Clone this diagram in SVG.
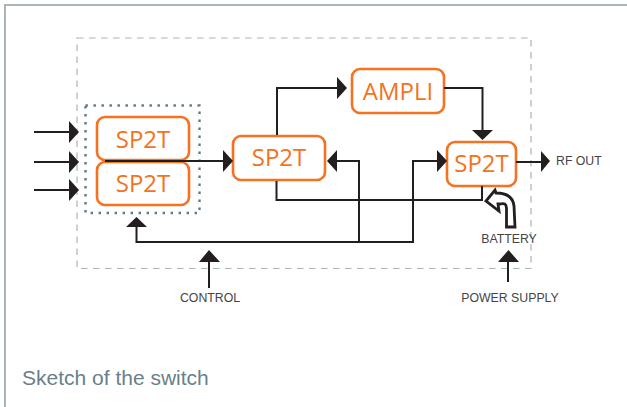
<svg xmlns="http://www.w3.org/2000/svg" width="627" height="407" viewBox="0 0 627 407">
<style>
.n{fill:#fff;stroke:#f47221;stroke-width:2.6}
.t{font-family:"Open Sans","Noto Sans",sans-serif;font-size:24px;fill:#f47221;text-anchor:middle}
.l{font-family:"Liberation Sans",Arial,sans-serif;font-size:12.300px;fill:#444;text-anchor:middle}
.c{fill:none;stroke:#231f20;stroke-width:2}
.h{fill:#231f20;stroke:none}
</style>
<rect width="627" height="407" fill="#fff"/>
<path d="M5 407V5H627" fill="none" stroke="#aab4bb" stroke-width="2"/>
<rect id="module" x="77" y="38" width="454" height="230.500" fill="none" stroke="#a9b4ba" stroke-width="1.2" stroke-dasharray="6.500 5.500"/>
<rect id="dual-switch" x="85.500" y="105.500" width="114" height="107.500" fill="none" stroke="#5f7a88" stroke-width="2.400" stroke-dasharray="2.400 5.600"/>
<g id="sp2t-top"><rect class="n" x="97" y="117" width="92" height="43" rx="8"/><text class="t" x="143" y="148">SP2T</text></g>
<g id="sp2t-bottom"><rect class="n" x="97" y="162" width="92" height="43" rx="8"/><text class="t" x="143" y="192">SP2T</text></g>
<g id="sp2t-middle"><rect class="n" x="233" y="136" width="92" height="44" rx="8"/><text class="t" x="279" y="166">SP2T</text></g>
<g id="ampli"><rect class="n" x="352" y="69" width="92" height="44" rx="8"/><text class="t" x="398" y="100">AMPLI</text></g>
<g id="sp2t-output"><rect class="n" x="447" y="142" width="69" height="44" rx="8"/><text class="t" x="481.500" y="172">SP2T</text></g>
<g id="connectors">
<path class="c" d="M34 132H70M34 162H70M34 190H70M105 161H224M277 135V88H338M444 88H482.500V131M276.500 181V200H482V186M516 162H542M136.500 226V242H413V161H437M359 242V161H336M209 262V288M508 262V282"/>
<path class="h" d="M69 121L79 132L69 143ZM69 151L79 162L69 173ZM69 179L79 190L69 201ZM223 150L233 161L223 172ZM126 227L136.500 217L147 227ZM199 262L209 250L220 262ZM337 77L347 88L337 99ZM472 130L482.500 140L493 130ZM337 150L327 161L337 172ZM437 150L447 161L437 172ZM541 151L550 161L541 172ZM498 262L508.500 250L519 262Z"/>
<path d="M515 227H506.500V208C506 202 503 204 498 204L499 211L486 201L495 190L496 193C507 193 513 197 514 206Z" fill="#fff" stroke="#231f20" stroke-width="2.800" stroke-linejoin="miter"/>
</g>
<text class="l" x="556" y="165" style="text-anchor:start">RF OUT</text>
<text class="l" x="509" y="243">BATTERY</text>
<text class="l" x="210" y="302">CONTROL</text>
<text class="l" x="510" y="302">POWER SUPPLY</text>
<text x="22" y="385" font-family="'Liberation Sans',Arial,sans-serif" font-size="21" fill="#6a7f8a">Sketch of the switch</text>
</svg>
